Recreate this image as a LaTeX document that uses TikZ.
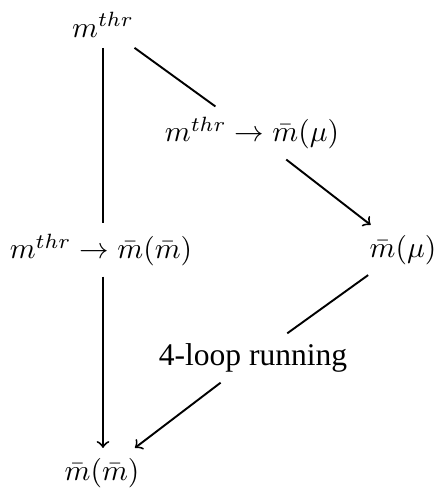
\documentclass[tikz,border=0pt]{standalone}
\usepackage{fontspec}
\setmainfont{Liberation Serif}
\begin{document}
\begin{tikzpicture}[x=0.339pt,y=-0.339pt,
  every node/.style={inner sep=3.3pt},
  conn/.style={line width=0.65pt},
  arr/.style={conn,->}]
\useasboundingbox (0,0) rectangle (441,489);
\node (top) at (103,25) {$m^{thr}$};
\node (mu) at (403,250) {$\bar m(\mu)$};
\node (bot) at (102,473) {$\bar m(\bar m)$};
\node (l1) at (101,250) {$m^{thr}\to\bar m(\bar m)$};
\node (l2) at (252,133) {$m^{thr}\to\bar m(\mu)$};
\node (l3) at (253,358) {\fontsize{10.7}{12}\selectfont 4-loop running};
\draw[conn] (top.south -| 103,0) -- (103,0 |- l1.north);
\draw[arr] (103,0 |- l1.south) -- (103,0 |- bot.north);
\draw[conn] (top) -- (l2);
\draw[arr] (l2) -- (mu);
\draw[conn] (mu) -- (l3);
\draw[arr] (l3) -- (bot);
\end{tikzpicture}
\end{document}
